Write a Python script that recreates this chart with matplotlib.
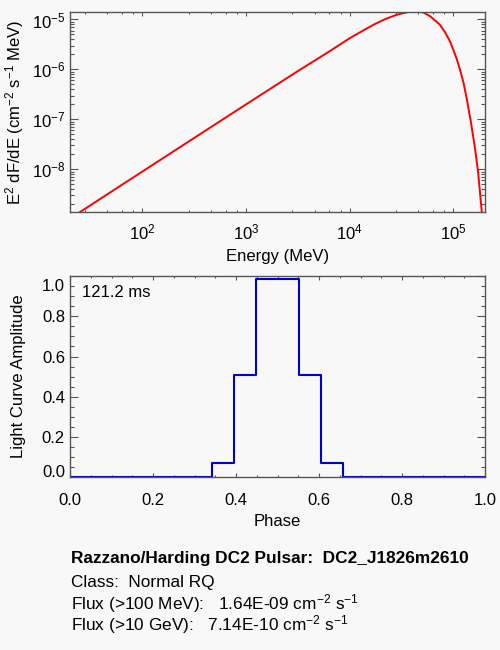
import matplotlib
matplotlib.use('Agg')
import matplotlib.pyplot as plt
import numpy as np
from matplotlib.ticker import FixedLocator, NullFormatter, LogLocator, FixedFormatter

plt.rcParams['font.family'] = ['Liberation Sans', 'DejaVu Sans']
plt.rcParams['mathtext.fontset'] = 'custom'
plt.rcParams['mathtext.rm'] = 'Liberation Sans'
plt.rcParams['mathtext.it'] = 'Liberation Sans:italic'
plt.rcParams['mathtext.bf'] = 'Liberation Sans:bold'
plt.rcParams['mathtext.default'] = 'regular'

# ---------------- data ----------------
energy_mev = [20.0, 39.8, 100, 316, 1000, 3162, 6310, 7943, 1.00e4, 1.35e4,
              1.78e4, 2.24e4, 2.82e4, 3.39e4, 3.80e4, 4.17e4, 4.47e4, 4.79e4,
              5.25e4, 6.03e4, 7.41e4, 8.32e4, 9.33e4, 1.07e5, 1.16e5, 1.26e5,
              1.35e5, 1.48e5, 1.62e5, 1.74e5, 1.88e5, 2.04e5]
e2dfde = [1.03e-9, 2.61e-9, 9.02e-9, 4.24e-8, 1.99e-7, 9.23e-7, 2.26e-6, 3.08e-6,
          4.19e-6, 6.00e-6, 8.22e-6, 1.03e-5, 1.23e-5, 1.36e-5, 1.42e-5, 1.45e-5,
          1.46e-5, 1.44e-5, 1.355e-5, 1.15e-5, 7.94e-6, 5.62e-6, 3.63e-6, 1.74e-6,
          1.02e-6, 5.37e-7, 2.63e-7, 9.12e-8, 2.75e-8, 8.91e-9, 1.58e-9, 2.51e-10]

phase = [0.0, 0.0526, 0.1053, 0.1579, 0.2105, 0.2632, 0.3158, 0.3684, 0.4211,
         0.4737, 0.5263, 0.5789, 0.6316, 0.6842, 0.7368, 0.7895, 0.8421, 0.8947,
         0.9474, 1.0]
amplitude = [0, 0, 0, 0, 0, 0, 0, 0.072, 0.51, 0.985, 0.985, 0.51, 0.072,
             0, 0, 0, 0, 0, 0, 0]

energy_ticks = [1e2, 1e3, 1e4, 1e5]
energy_minor = [m * 10.0 ** d for d in range(1, 6) for m in (2.8, 4.6, 6.4, 8.2)]
phase_ticks = [0.0, 0.2, 0.4, 0.6, 0.8, 1.0]
phase_labels = ['0.0', '0.2', '0.4', '0.6', '0.8', '1.0']
amp_ticks = [0.0, 0.2, 0.4, 0.6, 0.8, 1.0]
amp_labels = ['', '0.2', '0.4', '0.6', '0.8', '']

period_text = '121.2 ms'
info_lines = ['Razzano/Harding DC2 Pulsar:  DC2_J1826m2610',
              'Class:  Normal RQ',
              'Flux (>100 MeV):   1.64E-09 cm$^{-2}$ s$^{-1}$',
              'Flux (>10 GeV):   7.14E-10 cm$^{-2}$ s$^{-1}$']

# ---------------- style ----------------
bg = '#f8f8f8'
axcol = '#555555'
fs = 12

fig = plt.figure(figsize=(5, 6.5), dpi=100, facecolor=bg)

# ---------- top panel: spectrum ----------
ax1 = fig.add_axes([0.14, 0.6734, 0.83, 0.3074], facecolor=bg)
ax1.plot(energy_mev, e2dfde, color='#ff0000', lw=1.4)
ax1.set_xscale('log')
ax1.set_yscale('log')
ax1.set_xlim(20, 2.03e5)
ax1.set_ylim(1.377e-9, 1.38e-5)
ax1.xaxis.set_major_locator(FixedLocator(energy_ticks))
ax1.xaxis.set_minor_locator(FixedLocator(energy_minor))
ax1.xaxis.set_minor_formatter(NullFormatter())
ax1.yaxis.set_major_locator(LogLocator(base=10, numticks=12))
ax1.yaxis.set_minor_locator(LogLocator(base=10, subs=np.arange(2, 10), numticks=30))
ax1.yaxis.set_minor_formatter(NullFormatter())
ax1.set_xlabel('Energy (MeV)', fontsize=fs, va='center')
ax1.xaxis.set_label_coords(0.5, -0.219)
ax1.set_ylabel('E$^2$ dF/dE (cm$^{-2}$ s$^{-1}$ MeV)', fontsize=fs, va='center')
ax1.yaxis.set_label_coords(-0.134, 0.5)

# ---------- bottom panel: light curve ----------
ax2 = fig.add_axes([0.14, 0.2657, 0.83, 0.3097], facecolor=bg)
ax2.step(phase, amplitude, where='mid', color='#0000cc', lw=1.5)
ax2.set_xlim(0, 1)
ax2.set_ylim(0, 1)
ax2.xaxis.set_major_locator(FixedLocator(phase_ticks))
ax2.xaxis.set_major_formatter(FixedFormatter(phase_labels))
ax2.xaxis.set_minor_locator(FixedLocator(np.arange(0, 1.0001, 0.05)))
ax2.yaxis.set_major_locator(FixedLocator(amp_ticks))
ax2.yaxis.set_major_formatter(FixedFormatter(amp_labels))
ax2.yaxis.set_minor_locator(FixedLocator(np.arange(0, 1.0001, 0.05)))
ax2.text(-0.012, 0.948, '1.0', transform=ax2.transAxes, ha='right', va='center', fontsize=fs)
ax2.text(-0.012, 0.026, '0.0', transform=ax2.transAxes, ha='right', va='center', fontsize=fs)
ax2.set_xlabel('Phase', fontsize=fs, va='center')
ax2.xaxis.set_label_coords(0.5, -0.2206)
ax2.set_ylabel('Light Curve Amplitude', fontsize=fs, va='center')
ax2.yaxis.set_label_coords(-0.124, 0.5)
ax2.text(0.028, 0.917, period_text, transform=ax2.transAxes, ha='left', va='center', fontsize=fs)

for ax in (ax1, ax2):
    for s in ax.spines.values():
        s.set_color(axcol)
        s.set_linewidth(1.0)
    ax.tick_params(which='both', direction='in', top=True, right=True,
                   color=axcol, width=0.8, labelsize=fs)
    ax.tick_params(axis='x', which='minor', length=1.5)
    ax.tick_params(axis='y', which='major', length=5.8, pad=3.6)
    ax.tick_params(axis='y', which='minor', length=2.9)
ax1.tick_params(axis='x', which='major', length=2.9, pad=7.5)
ax2.tick_params(axis='x', which='major', length=2.9, pad=11.5)

# ---------- info text ----------
baselines = [562.5, 587.3, 609.0, 630.0]
for i, (line, b) in enumerate(zip(info_lines, baselines)):
    fig.text(0.1414, 1 - b / 650, line, fontsize=12.4, va='baseline', ha='left',
             fontweight='bold' if i == 0 else 'normal')

fig.savefig('out.png', dpi=100, facecolor=bg)
